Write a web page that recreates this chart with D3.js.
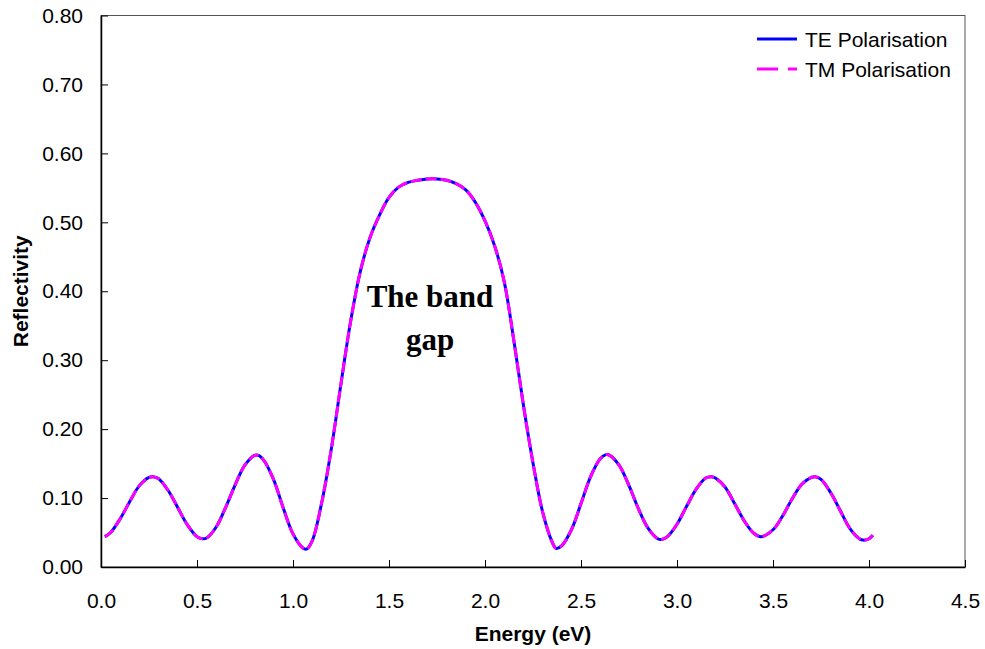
<!DOCTYPE html>
<html lang="en">

<head>
  <meta charset="UTF-8">
  <title>Reflectivity</title>
  <style>
    body { margin: 0; background: #fff; }
    svg { display: block; }
  </style>
</head>

<body>
  <svg id="chart"></svg>

  <script src="https://d3js.org/d3.v7.min.js"></script>
  <script>
    // energy (eV) values
    var energy = [0.02, 0.05, 0.10, 0.15, 0.20, 0.25, 0.27, 0.30, 0.35, 0.40, 0.45, 0.50, 0.53, 0.55,
      0.60, 0.65, 0.70, 0.75, 0.80, 0.82, 0.85, 0.90, 0.95, 1.00, 1.05, 1.07, 1.10, 1.15, 1.20, 1.25,
      1.30, 1.35, 1.40, 1.45, 1.50, 1.55, 1.60, 1.65, 1.70, 1.75, 1.80, 1.85, 1.90, 1.95, 2.00, 2.05,
      2.10, 2.15, 2.20, 2.25, 2.30, 2.35, 2.37, 2.40, 2.45, 2.50, 2.55, 2.60, 2.63, 2.65, 2.70, 2.75,
      2.80, 2.85, 2.90, 2.92, 2.95, 3.00, 3.05, 3.10, 3.15, 3.18, 3.20, 3.25, 3.30, 3.35, 3.40, 3.44,
      3.50, 3.55, 3.60, 3.65, 3.70, 3.72, 3.75, 3.80, 3.85, 3.90, 3.95, 3.97, 4.00, 4.02];

    var teRefl = [0.044, 0.050, 0.070, 0.095, 0.118, 0.130, 0.131, 0.128, 0.111, 0.086, 0.061, 0.044, 0.041, 0.042,
      0.058, 0.087, 0.120, 0.148, 0.162, 0.162, 0.154, 0.126, 0.085, 0.048, 0.028, 0.026, 0.038, 0.094, 0.172, 0.266,
      0.356, 0.428, 0.477, 0.510, 0.536, 0.551, 0.558, 0.561, 0.563, 0.563, 0.561, 0.556, 0.547, 0.529, 0.502, 0.466,
      0.414, 0.329, 0.235, 0.151, 0.080, 0.036, 0.027, 0.031, 0.054, 0.092, 0.131, 0.157, 0.163, 0.162, 0.147, 0.118,
      0.084, 0.056, 0.041, 0.040, 0.044, 0.062, 0.088, 0.113, 0.129, 0.131, 0.129, 0.116, 0.092, 0.067, 0.049, 0.044,
      0.054, 0.074, 0.099, 0.120, 0.130, 0.131, 0.127, 0.108, 0.082, 0.056, 0.041, 0.039, 0.041, 0.046];

    // TM polarisation lies on top of TE at normal incidence
    var tmRefl = teRefl.slice();

    var xTicks = [0, 0.5, 1.0, 1.5, 2.0, 2.5, 3.0, 3.5, 4.0, 4.5];
    var yTicks = [0, 0.1, 0.2, 0.3, 0.4, 0.5, 0.6, 0.7, 0.8];
    var seriesNames = ["TE Polarisation", "TM Polarisation"];

    var W = 985, H = 649;
    var margin = { top: 15.5, right: 20, bottom: 82, left: 101 };
    var font = "Arial, 'Liberation Sans', sans-serif";

    var svg = d3.select("#chart").attr("width", W).attr("height", H);

    var x = d3.scaleLinear().domain([0, 4.5]).range([margin.left, W - margin.right]);
    var y = d3.scaleLinear().domain([0, 0.8]).range([H - margin.bottom, margin.top]);

    // frame (top and right)
    svg.append("rect")
      .attr("x", x(0)).attr("y", y(0.8))
      .attr("width", x(4.5) - x(0)).attr("height", y(0) - y(0.8))
      .attr("fill", "none").attr("stroke", "#555").attr("stroke-width", 1);

    var axisX = d3.axisBottom(x).tickValues(xTicks).tickFormat(d3.format(".1f"))
      .tickSizeInner(-7).tickSizeOuter(0).tickPadding(26);
    var axisY = d3.axisLeft(y).tickValues(yTicks).tickFormat(d3.format(".2f"))
      .tickSizeInner(-7).tickSizeOuter(0).tickPadding(18);

    var gx = svg.append("g").attr("transform", "translate(0," + y(0) + ")").call(axisX);
    var gy = svg.append("g").attr("transform", "translate(" + x(0) + ",0)").call(axisY);

    [gx, gy].forEach(function (g) {
      g.select(".domain").attr("stroke", "#000").attr("stroke-width", 1.5);
      g.selectAll(".tick line").attr("stroke", "#000");
      g.selectAll(".tick text").attr("font-family", font).attr("font-size", 21).attr("fill", "#000");
    });

    var pts = energy.map(function (e, i) { return { e: e, te: teRefl[i], tm: tmRefl[i] }; });

    var lineTE = d3.line().x(function (d) { return x(d.e); }).y(function (d) { return y(d.te); })
      .curve(d3.curveCatmullRom.alpha(0.5));
    var lineTM = d3.line().x(function (d) { return x(d.e); }).y(function (d) { return y(d.tm); })
      .curve(d3.curveCatmullRom.alpha(0.5));

    svg.append("path").datum(pts).attr("d", lineTE)
      .attr("fill", "none").attr("stroke", "#0000ff").attr("stroke-width", 3);
    svg.append("path").datum(pts).attr("d", lineTM)
      .attr("fill", "none").attr("stroke", "#ff00ff").attr("stroke-width", 3)
      .attr("stroke-dasharray", "11,4");

    // legend
    var legend = svg.append("g");
    var legColors = ["#0000ff", "#ff00ff"];
    var legDash = [null, "21,10"];
    seriesNames.forEach(function (name, i) {
      var ly = 39 + i * 30;
      legend.append("line")
        .attr("x1", 757).attr("x2", 797).attr("y1", ly).attr("y2", ly)
        .attr("stroke", legColors[i]).attr("stroke-width", 3)
        .attr("stroke-dasharray", legDash[i]);
      legend.append("text")
        .attr("x", 805).attr("y", ly).attr("dy", "0.36em")
        .attr("font-family", font).attr("font-size", 21)
        .text(name);
    });

    // axis titles
    svg.append("text")
      .attr("x", (x(0) + x(4.5)) / 2).attr("y", 641)
      .attr("text-anchor", "middle")
      .attr("font-family", font).attr("font-size", 21).attr("font-weight", "bold")
      .text("Energy (eV)");

    svg.append("text")
      .attr("transform", "translate(28," + (y(0) + y(0.8)) / 2 + ") rotate(-90)")
      .attr("text-anchor", "middle")
      .attr("font-family", font).attr("font-size", 21).attr("font-weight", "bold")
      .text("Reflectivity");

    // annotation
    var note = svg.append("text")
      .attr("text-anchor", "middle")
      .attr("font-family", "'Times New Roman', 'Liberation Serif', serif")
      .attr("font-size", 31).attr("font-weight", "bold");
    note.append("tspan").attr("x", 430).attr("y", 307).text("The band");
    note.append("tspan").attr("x", 430).attr("y", 350).text("gap");
  </script>
</body>

</html>
